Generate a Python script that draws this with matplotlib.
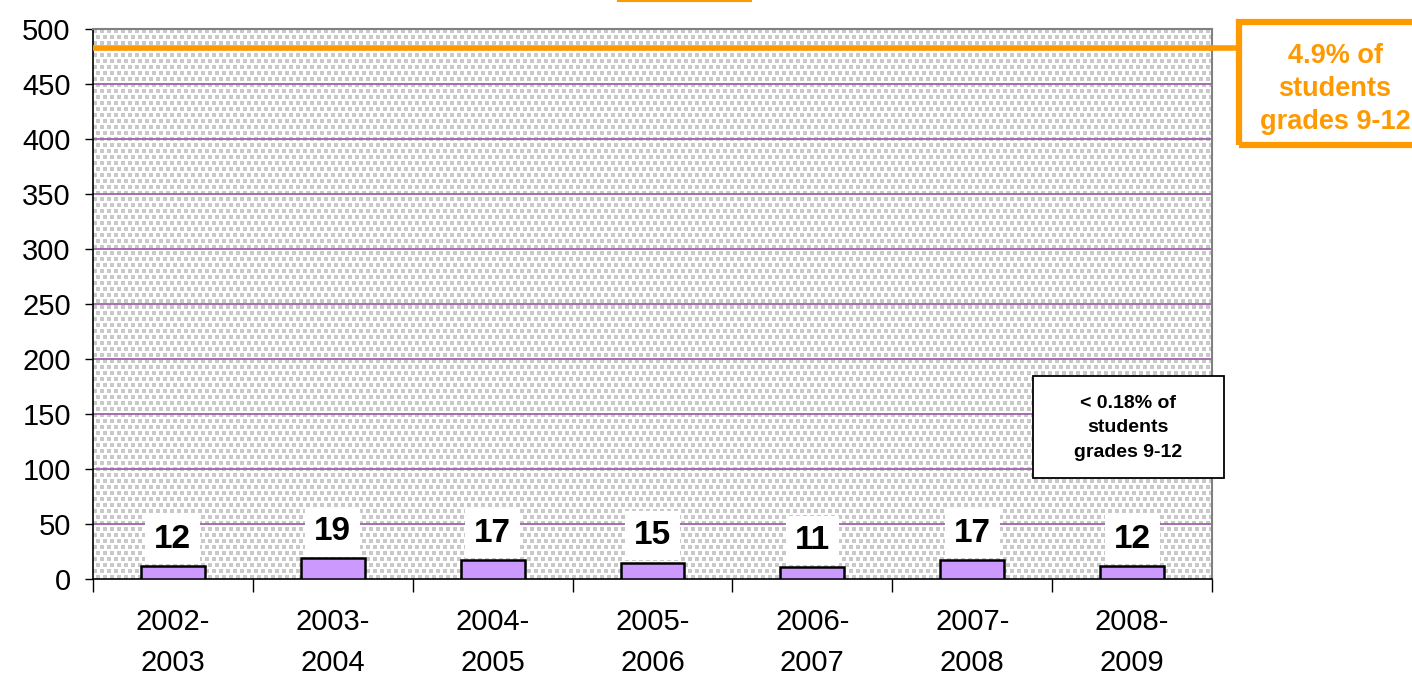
import numpy as np
import matplotlib
matplotlib.use("Agg")
import matplotlib.pyplot as plt
from matplotlib.patches import Rectangle
from matplotlib.lines import Line2D

plt.rcParams['font.family'] = ['Liberation Sans', 'DejaVu Sans']

categories = ["2002-\n2003", "2003-\n2004", "2004-\n2005", "2005-\n2006",
              "2006-\n2007", "2007-\n2008", "2008-\n2009"]
values = [12, 19, 17, 15, 11, 17, 12]
yticks = [0, 50, 100, 150, 200, 250, 300, 350, 400, 450, 500]
reference_level = 483
big_note = "4.9% of\nstudents\ngrades 9-12"
small_note = "< 0.18% of\nstudents\ngrades 9-12"

W, H = 1412, 677
fig = plt.figure(figsize=(W / 100, H / 100), dpi=100)
L, R, T, B = 93, 1212, 29, 579
ax = fig.add_axes([L / W, 1 - B / H, (R - L) / W, (B - T) / H])

# dotted background texture (staggered grey squares)
ph, pw = B - T, R - L
img = np.ones((ph, pw, 3))
yy, xx = np.mgrid[0:ph, 0:pw]
row = yy // 6
shift = (row % 2) * 4
mask = ((yy % 6) < 4) & (((xx + shift) % 7) < 4)
img[mask] = np.array([0.79, 0.79, 0.79])
ax.imshow(img, extent=[-0.5, 6.5, 0, 500], aspect='auto', zorder=0,
          interpolation='nearest')

x = np.arange(len(values))
ax.set_xlim(-0.5, 6.5)
ax.set_ylim(0, 500)

for yv in yticks[1:-1]:
    ax.axhline(yv, color='#a065aa', lw=1.3, zorder=1)

ax.bar(x, values, width=0.4, color='#cc99ff', edgecolor='black', lw=1.8, zorder=3)

for xi, v in zip(x, values):
    ax.annotate(str(v), (xi, v), xytext=(0, 8), textcoords='offset points',
                ha='center', va='bottom', fontsize=24, fontweight='bold',
                zorder=5,
                bbox=dict(boxstyle='square,pad=0.27', fc='white', ec='none'))

ax.set_yticks(yticks)
ax.set_yticklabels([str(t) for t in yticks], fontsize=21)
ax.set_xticks(x)
ax.set_xticklabels(categories, fontsize=21, linespacing=1.6)
ax.set_xticks(np.arange(-0.5, 7, 1), minor=True)
ax.tick_params(axis='x', which='major', length=0, pad=21)
ax.tick_params(axis='x', which='minor', length=9, width=1, direction='out')
ax.tick_params(axis='y', length=6, width=1, pad=10)

for s in ['left', 'bottom']:
    ax.spines[s].set_color('black')
    ax.spines[s].set_linewidth(1.2)
for s in ['top', 'right']:
    ax.spines[s].set_color('#808080')
    ax.spines[s].set_linewidth(1.5)

orange = '#ff9900'
ax.axhline(reference_level, color=orange, lw=4, zorder=4)
# connector to box
fy = 1 - 48 / H
fig.add_artist(Line2D([R / W, 1238 / W], [fy, fy], color=orange, lw=4))
fig.add_artist(Rectangle((1239 / W, 1 - 145 / H), 200 / W, 123 / H,
                         fill=False, ec=orange, lw=4.5, clip_on=False))
fig.text(1335 / W, 1 - 89 / H, big_note, ha='center', va='center',
         fontsize=19.5, fontweight='bold', color=orange, linespacing=1.35)

# underline fragment of the (cropped) title
fig.add_artist(Line2D([618 / W, 751 / W], [1 - 0.8 / H, 1 - 0.8 / H],
                      color=orange, lw=1.5))

fig.add_artist(Rectangle((1033 / W, 1 - 478 / H), 191 / W, 102 / H,
                         fc='white', ec='black', lw=1.3))
fig.text(1128 / W, 1 - 428 / H, small_note, ha='center', va='center',
         fontsize=14, fontweight='bold', color='black', linespacing=1.55)

fig.savefig("out.png", dpi=100)
